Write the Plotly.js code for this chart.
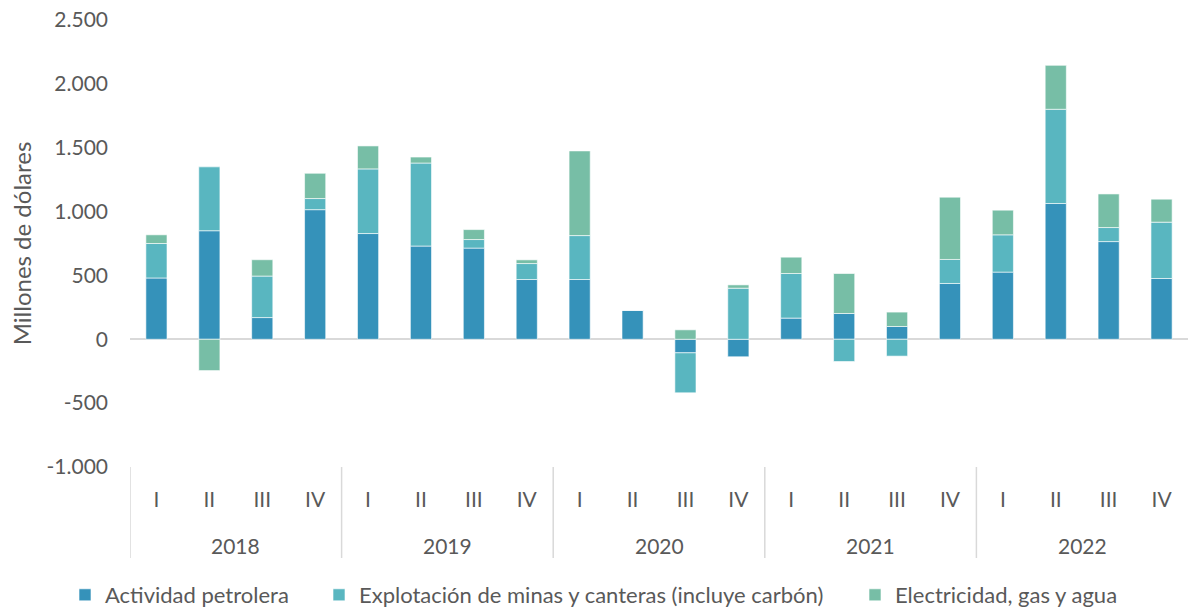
<!DOCTYPE html>
<html>
<head>
<meta charset="utf-8">
<script src="https://cdn.plot.ly/plotly-3.0.1.min.js"></script>
<style>html,body{margin:0;padding:0;background:#fff;}#chart{width:1188px;height:607px;}</style>
</head>
<body>
<div id="chart"></div>
<script>
const years = ["2018","2018","2018","2018","2019","2019","2019","2019","2020","2020","2020","2020","2021","2021","2021","2021","2022","2022","2022","2022"];
const quarters = ["I","II","III","IV","I","II","III","IV","I","II","III","IV","I","II","III","IV","I","II","III","IV"];
const petrolera = [480, 850, 170, 1015, 828, 730, 714, 468, 468, 228, -106, -137, 166, 202, 100, 437, 526, 1063, 765, 476];
const minas = [270, 500, 325, 87, 506, 650, 67, 125, 344, 0, -313, 400, 349, -174, -132, 188, 292, 738, 110, 441];
const electricidad = [68, -245, 128, 198, 180, 47, 78, 29, 663, 0, 74, 26, 128, 313, 113, 488, 193, 344, 263, 180];
const seriesNames = ["Actividad petrolera", "Explotación de minas y canteras (incluye carbón)", "Electricidad, gas y agua"];
const colors = ["#3592BA", "#59B6C0", "#77BEA6"];
const yTickVals = [-1000, -500, 0, 500, 1000, 1500, 2000, 2500];
const yTickText = ["-1.000", "-500", "0", "500", "1.000", "1.500", "2.000", "2.500"];

const FONT = "Lato, 'Open Sans', sans-serif";
const GREY = "#595959";
const DIV = "#d9d9d9";
const W = 1188, H = 607;

// unique category keys (year + quarter)
const cats = years.map((y, i) => y + " " + quarters[i]);
const uniqYears = [...new Set(years)];
const yearCentres = uniqYears.map(y => {
  const idx = years.map((v, i) => v === y ? i : -1).filter(i => i >= 0);
  return (idx[0] + idx[idx.length - 1]) / 2;
});
const yearStarts = uniqYears.map(y => years.indexOf(y) - 0.5);
const xRange = [-0.5, cats.length - 0.5];

const legendIds = ["legend", "legend2", "legend3"];
const legendTextX = [103, 357, 893];   // pixel where each legend text starts

const data = [petrolera, minas, electricidad].map((vals, i) => ({
  type: "bar",
  name: seriesNames[i],
  x: cats,
  y: vals,
  width: 0.4,
  legend: legendIds[i],
  marker: {color: colors[i], line: {color: "rgba(255,255,255,0.6)", width: 1}},
  hoverinfo: "y+name"
}));

const plotH = H - 20 - 140;
const legendBase = {orientation: "h", xref: "container", yref: "container", xanchor: "left",
  y: 1 - 595 / H, yanchor: "middle",
  font: {family: FONT, size: 22, color: GREY}, itemwidth: 30, bgcolor: "rgba(0,0,0,0)"};

const layout = {
  width: W, height: H,
  margin: {l: 130, r: 0, t: 20, b: 140},
  barmode: "relative",
  paper_bgcolor: "#fff", plot_bgcolor: "#fff",
  font: {family: FONT, color: GREY, size: 20},
  showlegend: true,
  xaxis: {
    type: "category", range: xRange,
    tickvals: cats, ticktext: quarters,
    showgrid: false, showline: false, zeroline: false, ticks: "",
    ticklabelstandoff: 18,
    tickfont: {family: FONT, size: 21, color: GREY}
  },
  yaxis: {
    range: [-1000, 2500],
    tickvals: yTickVals, ticktext: yTickText,
    showgrid: false, showline: false, ticks: "",
    zeroline: true, zerolinecolor: DIV, zerolinewidth: 2,
    tickfont: {family: FONT, size: 21, color: GREY},
    ticklabelstandoff: 21,
    title: {text: "Millones de dólares", font: {family: FONT, size: 24, color: GREY}, standoff: 8}
  },
  annotations: uniqYears.map((y, i) => ({
    text: y, x: yearCentres[i], xref: "x", y: -(545 - 467) / plotH, yref: "paper",
    xanchor: "center", yanchor: "middle", showarrow: false,
    font: {family: FONT, size: 21, color: GREY}
  })),
  shapes: yearStarts.map(x0 => ({
    type: "line", xref: "x", yref: "paper", x0: x0, x1: x0, y0: 0, y1: -(558 - 467) / plotH,
    line: {color: DIV, width: 1.5}
  }))
};
legendIds.forEach((id, i) => {
  layout[id] = Object.assign({}, legendBase, {x: (legendTextX[i] - 38) / W});
});
Plotly.newPlot("chart", data, layout, {displayModeBar: false, staticPlot: true});
</script>
</body>
</html>
